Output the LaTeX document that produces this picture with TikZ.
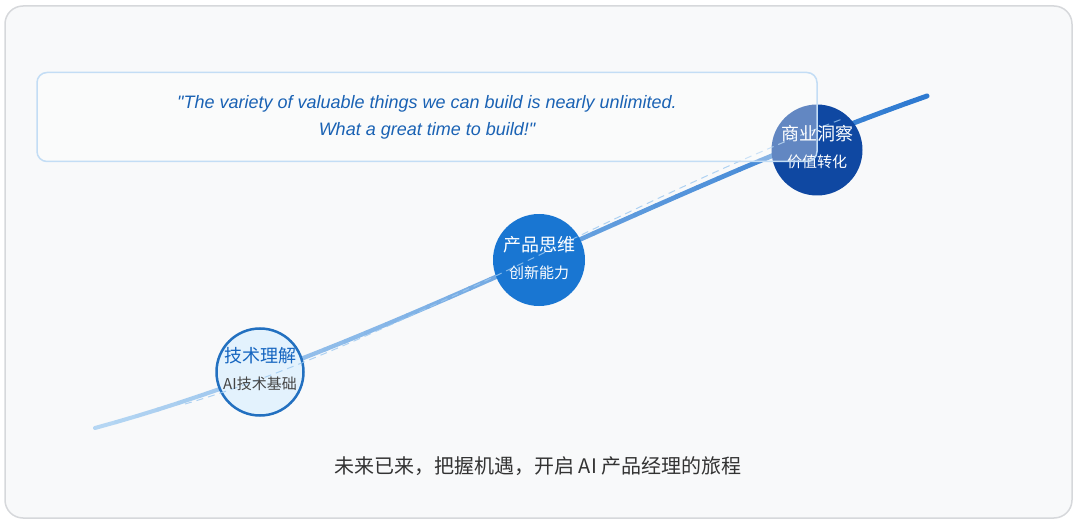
\documentclass[tikz,border=0pt]{standalone}
\usepackage{fontspec}
\setmainfont{Liberation Sans}[Ligatures=TeXOff]
\newfontfamily\cjkfont{Noto Sans CJK SC}
\usepackage{xcolor}
\definecolor{framefill}{HTML}{F8F9FA}
\definecolor{frameline}{HTML}{D6D8DB}
\definecolor{quoteline}{HTML}{C3DDF5}
\definecolor{quotetext}{HTML}{1A62B4}
\definecolor{trendlight}{HTML}{B5D6F3}
\definecolor{trenddark}{HTML}{2B78D0}
\definecolor{dashblue}{HTML}{9CC8F0}
\definecolor{techfill}{HTML}{E3F2FD}
\definecolor{techline}{HTML}{2270C0}
\definecolor{techtitle}{HTML}{1565C0}
\definecolor{subgray}{HTML}{454545}
\definecolor{productfill}{HTML}{1976D2}
\definecolor{businessfill}{HTML}{0F48A2}
\definecolor{mottotext}{HTML}{333333}
\tikzset{
    outer-frame/.style = {draw=frameline, fill=framefill, line width=1.5pt, rounded corners=18pt},
    quote-box/.style = {draw=quoteline, fill=white, fill opacity=0.35, draw opacity=1, text opacity=1, line width=1.5pt, rectangle, rounded corners=10pt, minimum width=780pt, minimum height=89pt, align=center, text=quotetext, font=\fontsize{18}{27}\selectfont\itshape},
    trend-seg/.style = {line cap=round},
    trend-dash/.style = {draw=dashblue, line width=1pt, dash pattern=on 7pt off 5pt, opacity=0.8},
    milestone/.style = {circle, minimum size=91pt, inner sep=0pt},
    milestone-title/.style = {font=\cjkfont\fontsize{18}{20}\selectfont, text=white, inner sep=0pt},
    milestone-sub/.style = {font=\cjkfont\fontsize{15}{17}\selectfont, text=white, inner sep=0pt},
    motto/.style = {font=\cjkfont\fontsize{20}{24}\selectfont, text=mottotext},
}

\begin{document}
\begin{tikzpicture}[x=1pt, y=-1pt]
\useasboundingbox (0,0) rectangle (1080,524);
\draw[outer-frame] (5,6) rectangle (1072,518);

\coordinate (trend-start) at (95,428);
\coordinate (trend-end) at (927,96);
\path (trend-start) .. controls (375,352) and (647,194) .. (trend-end)
    foreach \k in {0,...,40} {coordinate[pos=\k/40] (t\k)};
\foreach \i [evaluate=\i as \j using int(\i+1), evaluate=\i as \mix using 2.5*\i, evaluate=\i as \w using 4+\i/40] in {0,...,39}
    \draw[trend-seg, trenddark!\mix!trendlight, line width=\w pt] (t\i) -- (t\j);

\node[milestone, draw=techline, fill=techfill, line width=2.5pt, minimum size=87pt] (tech) at (260,372) {};
\node[milestone, fill=productfill, minimum size=92pt] (product) at (539,260) {};
\node[milestone, fill=businessfill] (business) at (817,150) {};

\coordinate (dash-start) at (185,404);
\coordinate (dash-end) at (845,118);
\draw[trend-dash] (dash-start) .. controls (380,348) and (640,194) .. (dash-end);

\node[milestone-title, text=techtitle] at ([yshift=16.5pt]tech.center) {技术理解};
\node[milestone-sub, text=subgray] at ([yshift=-12pt]tech.center) {AI技术基础};
\node[milestone-title] at ([yshift=15.5pt]product.center) {产品思维};
\node[milestone-sub] at ([yshift=-12.5pt]product.center) {创新能力};
\node[milestone-title] at ([yshift=16.5pt]business.center) {商业洞察};
\node[milestone-sub] at ([yshift=-11.5pt]business.center) {价值转化};

\node[quote-box] (quote) at (427,117) {"The variety of valuable things we can build is nearly unlimited.\\What a great time to build!"};

\node[motto] (motto) at (538,466) {未来已来，把握机遇，开启 AI 产品经理的旅程};
\end{tikzpicture}
\end{document}
